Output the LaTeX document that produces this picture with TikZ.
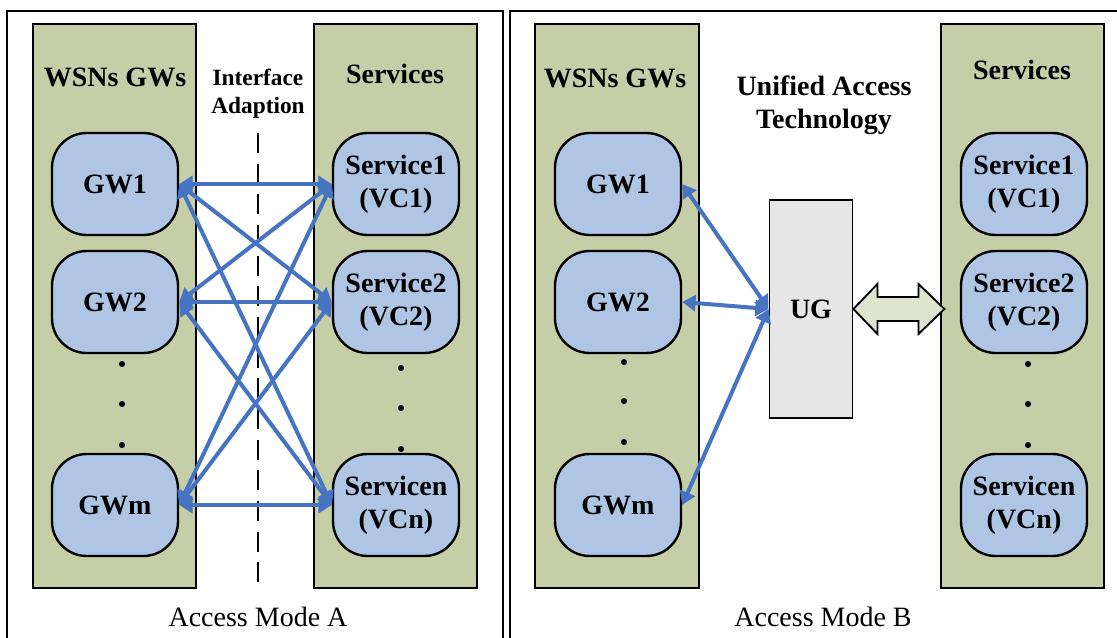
\documentclass[tikz,border=0pt]{standalone}
\usepackage{fontspec}
\setmainfont{Liberation Serif}
\usepackage{tikz}
\usetikzlibrary{calc,arrows.meta,positioning}
\usepackage{xcolor}

\definecolor{colgreen}{RGB}{198,206,168}
\definecolor{boxblue}{RGB}{175,197,228}
\definecolor{linkblue}{RGB}{70,116,194}
\definecolor{uggray}{RGB}{230,230,230}
\definecolor{arrowgreen}{RGB}{222,228,205}

\begin{document}
\begin{tikzpicture}[x=0.75pt, y=-0.75pt,
    panel/.style={line width=1.5pt},
    column/.style={draw, line width=1.4pt, fill=colgreen},
    unit/.style={draw, line width=1.8pt, fill=boxblue, rounded corners=26pt,
        minimum width=94.5pt, minimum height=76.5pt, inner sep=0pt,
        align=center, font=\fontsize{21}{25}\selectfont\bfseries},
    head/.style={align=center, font=\fontsize{21}{25}\selectfont\bfseries},
    caption/.style={font=\fontsize{21}{25}\selectfont},
    link/.style={draw=linkblue, line width=3pt,
        {Triangle[length=10pt,width=12pt]}-{Triangle[length=10pt,width=12pt]}}]
    \useasboundingbox (0,0) rectangle (1117,638);

    % outer frames
    \draw[panel] (7,638) -- (7,11) -- (503,11) -- (503,638);
    \draw[panel] (510,638) -- (510,11) -- (1117,11);

    % mode A
    \draw[column] (33,24) rectangle (196,588);
    \draw[column] (314,24) rectangle (477,588);
    \node[head] (gwsA) at (115,77) {WSNs GWs};
    \node[head] (svcsA) at (395,74) {Services};
    \node[head, font=\fontsize{17.5}{21}\selectfont\bfseries] (ifad) at (258,94) {Interface\\Adaption};
    \draw[line width=2pt, dash pattern=on 15pt off 8pt] (258,133) -- (258,588);

    \node[unit] (gw1) at (115,184) {GW1};
    \node[unit] (gw2) at (115,302) {GW2};
    \node[unit] (gwm) at (115,505) {GWm};
    \node[unit] (sv1) at (396,184) {Service1\\(VC1)};
    \node[unit] (sv2) at (396,302) {Service2\\(VC2)};
    \node[unit] (svn) at (396,505) {Servicen\\(VCn)};
    \foreach \p in {364,404,445} {
        \fill (122,\p) circle (2.3pt);
    }
    \foreach \p in {368,408,449} {
        \fill (401,\p) circle (2.3pt);
    }

    \foreach \g in {gw1,gw2,gwm} {
        \foreach \s in {sv1,sv2,svn} {
            \draw[link] (\g.east) -- (\s.west);
        }
    }

    \node[caption] (capA) at (258,617) {Access Mode A};

    % mode B
    \draw[column] (535,24) rectangle (699,588);
    \draw[column] (941,24) rectangle (1104,588);
    \node[head] (gwsB) at (615,78) {WSNs GWs};
    \node[head] (svcsB) at (1022,70) {Services};
    \node[head] (uat) at (824,105) {Unified Access\\Technology};

    \node[unit] (gwb1) at (618,184) {GW1};
    \node[unit] (gwb2) at (618,302) {GW2};
    \node[unit] (gwbm) at (618,505) {GWm};
    \node[unit] (svb1) at (1024,184) {Service1\\(VC1)};
    \node[unit] (svb2) at (1024,302) {Service2\\(VC2)};
    \node[unit] (svbn) at (1024,505) {Servicen\\(VCn)};
    \foreach \p in {362,401,442} {
        \fill (624,\p) circle (2.3pt);
    }
    \foreach \p in {364,404,445} {
        \fill (1028,\p) circle (2.3pt);
    }

    \node[draw, line width=1.4pt, fill=uggray, minimum width=62.25pt, minimum height=163.5pt,
        font=\fontsize{21}{25}\selectfont\bfseries] (ug) at (811,309) {UG};
    \foreach \g in {gwb1,gwb2,gwbm} {
        \draw[link] (ug.west) -- (\g.east);
    }
    \draw[line width=1.4pt, fill=arrowgreen] (ug.east) -- ++(24,-25) -- ++(0,13) -- ++(41,0)
        -- ++(0,-13) -- ++(26,25) -- ++(-26,25) -- ++(0,-13) -- ++(-41,0) -- ++(0,13) -- cycle;

    \node[caption] (capB) at (823,617) {Access Mode B};
\end{tikzpicture}
\end{document}
